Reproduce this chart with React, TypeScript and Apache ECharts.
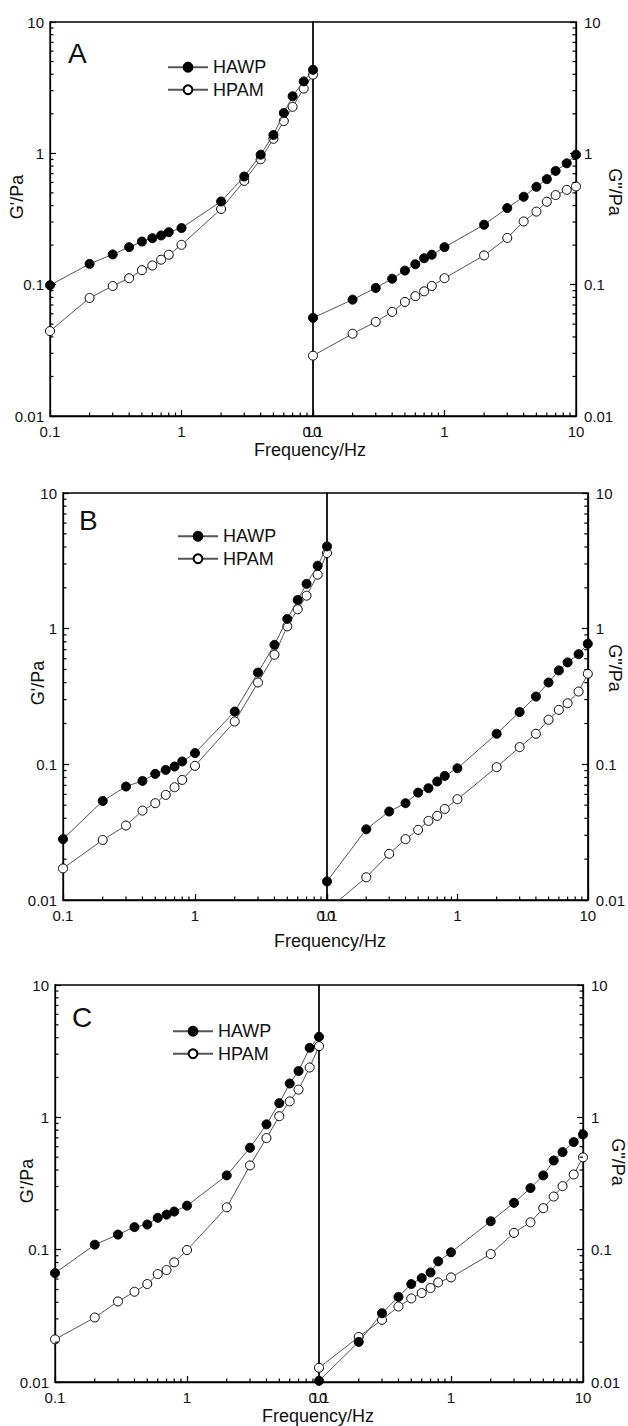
import React, { useEffect, useRef } from "react";
import * as echarts from "echarts";

// Frequency (Hz) of each measured point
const freq = [0.1, 0.2, 0.3, 0.4, 0.5, 0.6, 0.7, 0.8, 1, 2, 3, 4, 5, 6, 7, 8.5, 10];

// Panel A
const A_G1_HAWP = [0.099, 0.144, 0.17, 0.193, 0.213, 0.226, 0.237, 0.251, 0.27, 0.43, 0.666, 0.977, 1.38, 2.03, 2.72, 3.53, 4.33];
const A_G1_HPAM = [0.0443, 0.0792, 0.0977, 0.112, 0.129, 0.14, 0.155, 0.169, 0.201, 0.377, 0.617, 0.901, 1.29, 1.76, 2.26, 3.11, 3.97];
const A_G2_HAWP = [0.0559, 0.0769, 0.0944, 0.111, 0.128, 0.143, 0.159, 0.169, 0.193, 0.286, 0.383, 0.467, 0.556, 0.636, 0.735, 0.84, 0.977];
const A_G2_HPAM = [0.0288, 0.0423, 0.0521, 0.0621, 0.0739, 0.0817, 0.089, 0.0977, 0.112, 0.167, 0.227, 0.303, 0.36, 0.428, 0.481, 0.527, 0.559];

// Panel B
const B_G1_HAWP = [0.0281, 0.0537, 0.0686, 0.0755, 0.0851, 0.091, 0.0964, 0.105, 0.121, 0.245, 0.475, 0.76, 1.18, 1.63, 2.14, 2.91, 4.04];
const B_G1_HPAM = [0.0171, 0.0277, 0.0354, 0.0456, 0.0517, 0.0595, 0.0678, 0.0768, 0.0975, 0.207, 0.401, 0.642, 1.04, 1.39, 1.75, 2.5, 3.61];
const B_G2_HAWP = [0.0137, 0.0332, 0.0449, 0.0517, 0.0619, 0.0667, 0.0747, 0.0822, 0.0935, 0.168, 0.243, 0.316, 0.401, 0.492, 0.564, 0.649, 0.774];
const B_G2_HPAM = [0.0084, 0.0147, 0.0219, 0.0281, 0.0329, 0.0383, 0.0417, 0.0469, 0.0553, 0.0953, 0.134, 0.168, 0.213, 0.252, 0.282, 0.344, 0.465];

// Panel C
const C_G1_HAWP = [0.0665, 0.109, 0.13, 0.148, 0.155, 0.174, 0.184, 0.194, 0.215, 0.364, 0.589, 0.885, 1.28, 1.8, 2.24, 3.35, 4.06];
const C_G1_HPAM = [0.021, 0.0307, 0.0406, 0.0481, 0.055, 0.0654, 0.0701, 0.0802, 0.0994, 0.209, 0.433, 0.697, 1.02, 1.32, 1.62, 2.38, 3.45];
const C_G2_HAWP = [0.0102, 0.0201, 0.0331, 0.044, 0.055, 0.061, 0.0673, 0.0816, 0.0955, 0.164, 0.226, 0.292, 0.364, 0.472, 0.546, 0.65, 0.743];
const C_G2_HPAM = [0.0128, 0.0219, 0.0295, 0.0372, 0.0428, 0.047, 0.0513, 0.0566, 0.0617, 0.0927, 0.134, 0.161, 0.206, 0.252, 0.302, 0.37, 0.498];

// Axis ranges and minor tick values
const xRange = [0.1, 10];
const yRange = [0.01, 10];
const minorX = [0.2, 0.3, 0.4, 0.5, 0.6, 0.7, 0.8, 0.9, 2, 3, 4, 5, 6, 7, 8, 9];
const minorY = [0.02, 0.03, 0.04, 0.05, 0.06, 0.07, 0.08, 0.09, 0.2, 0.3, 0.4, 0.5, 0.6, 0.7, 0.8, 0.9, 2, 3, 4, 5, 6, 7, 8, 9];

const seriesNames = ["HAWP", "HPAM"];
const panelLetters = ["A", "B", "C"];
const xTitle = "Frequency/Hz";
const yTitleLeft = "G'/Pa";
const yTitleRight = 'G"/Pa';

const panelData = [
  { g1: [A_G1_HAWP, A_G1_HPAM], g2: [A_G2_HAWP, A_G2_HPAM] },
  { g1: [B_G1_HAWP, B_G1_HPAM], g2: [B_G2_HAWP, B_G2_HPAM] },
  { g1: [C_G1_HAWP, C_G1_HPAM], g2: [C_G2_HAWP, C_G2_HPAM] },
];

// Layout (pixels)
const layouts = [
  { left: 50, top: 22, w: 263, h: 394, legend: [167, 56], letter: [68, 53], yl: [17, 197], yr: [615, 192], xt: [310, 450] },
  { left: 63, top: 493, w: 264, h: 407, legend: [177, 525], letter: [79, 520], yl: [38, 683], yr: [615, 668], xt: [330, 941] },
  { left: 55, top: 985, w: 264, h: 397, legend: [172, 1020], letter: [72, 1017], yl: [27, 1181], yr: [618, 1162], xt: [318, 1416] },
];

const FONT = '"Liberation Sans", Arial, Helvetica, sans-serif';
const INK = "#111";
const LINE = "#555";
const AXIS_W = 1.3;
const TICK_COLOR = "#000";
const MINOR_LEN = 3.5;

function buildOption() {
  const grid: any[] = [];
  const xAxis: any[] = [];
  const yAxis: any[] = [];
  const series: any[] = [];
  const legend: any[] = [];
  const graphic: any[] = [];

  layouts.forEach((L, p) => {
    for (let side = 0; side < 2; side++) {
      const gi = grid.length;
      grid.push({
        left: L.left + side * L.w,
        top: L.top,
        width: L.w,
        height: L.h,
        show: true,
        borderColor: "#000",
        borderWidth: AXIS_W,
        backgroundColor: "transparent",
        containLabel: false,
      });
      xAxis.push({
        type: "log",
        logBase: 10,
        gridIndex: gi,
        min: xRange[0],
        max: xRange[1],
        axisLine: { show: true, lineStyle: { color: "#000", width: AXIS_W } },
        axisTick: { show: true, inside: true, length: 6, lineStyle: { color: "#000", width: 1.2 } },
        axisLabel: { fontSize: 15, color: INK, fontFamily: FONT, margin: 8 },
        splitLine: { show: false },
      });
      yAxis.push({
        type: "log",
        logBase: 10,
        gridIndex: gi,
        min: yRange[0],
        max: yRange[1],
        position: side === 0 ? "left" : "right",
        axisLine: { show: true, lineStyle: { color: "#000", width: AXIS_W } },
        axisTick: { show: true, inside: true, length: 6, lineStyle: { color: "#000", width: 1.2 } },
        axisLabel: { fontSize: 15, color: INK, fontFamily: FONT, margin: side === 0 ? 6 : 8 },
        splitLine: { show: false },
      });
      const vals = side === 0 ? panelData[p].g1 : panelData[p].g2;
      // HPAM first so HAWP is drawn on top
      [1, 0].forEach((k) => {
        const filled = k === 0;
        series.push({
          type: "line",
          name: seriesNames[k],
          xAxisIndex: gi,
          yAxisIndex: gi,
          data: freq.map((f, i) => [f, vals[k][i]]),
          symbol: "circle",
          symbolSize: 9,
          showSymbol: true,
          clip: true,
          z: filled ? 4 : 3,
          lineStyle: { color: LINE, width: 1 },
          itemStyle: { color: filled ? "#000" : "#fff", borderColor: "#000", borderWidth: 1 },
          emphasis: { disabled: true },
          silent: true,
        });
      });
      // minor ticks on the bottom axis
      series.push({
        type: "custom",
        coordinateSystem: "cartesian2d",
        xAxisIndex: gi,
        yAxisIndex: gi,
        silent: true,
        clip: false,
        z: 6,
        dimensions: ["x", "y"],
        encode: { x: 0, y: 1 },
        data: minorX.map((v) => [v, yRange[0]]),
        renderItem: (params: any, api: any) => {
          const c = api.coord([api.value(0), api.value(1)]);
          return {
            type: "line",
            shape: { x1: c[0], y1: c[1], x2: c[0], y2: c[1] - MINOR_LEN },
            style: { stroke: TICK_COLOR, lineWidth: 1.2 },
          };
        },
      });
      // minor ticks on the vertical axis
      series.push({
        type: "custom",
        coordinateSystem: "cartesian2d",
        xAxisIndex: gi,
        yAxisIndex: gi,
        silent: true,
        clip: false,
        z: 6,
        dimensions: ["x", "y"],
        encode: { x: 0, y: 1 },
        data: minorY.map((v) => [side === 0 ? xRange[0] : xRange[1], v]),
        renderItem: (params: any, api: any) => {
          const c = api.coord([api.value(0), api.value(1)]);
          const d = side === 0 ? MINOR_LEN : -MINOR_LEN;
          return {
            type: "line",
            shape: { x1: c[0], y1: c[1], x2: c[0] + d, y2: c[1] },
            style: { stroke: TICK_COLOR, lineWidth: 1.2 },
          };
        },
      });
    }

    legend.push({
      left: L.legend[0],
      top: L.legend[1],
      orient: "vertical",
      padding: 0,
      itemGap: 0,
      itemWidth: 40,
      itemHeight: 11,
      selectedMode: false,
      data: seriesNames,
      textStyle: { fontSize: 18, color: INK, fontFamily: FONT, lineHeight: 22.5 },
    });

    graphic.push({
      type: "text",
      x: L.letter[0],
      y: L.letter[1],
      style: { text: panelLetters[p], fontSize: 28, fontFamily: FONT, fill: INK, align: "left", verticalAlign: "middle" },
    });
    graphic.push({
      type: "text",
      x: L.yl[0],
      y: L.yl[1],
      rotation: Math.PI / 2,
      style: { text: yTitleLeft, fontSize: 18, fontFamily: FONT, fill: INK, align: "center", verticalAlign: "middle" },
    });
    graphic.push({
      type: "text",
      x: L.yr[0],
      y: L.yr[1],
      rotation: -Math.PI / 2,
      style: { text: yTitleRight, fontSize: 18, fontFamily: FONT, fill: INK, align: "center", verticalAlign: "middle" },
    });
    graphic.push({
      type: "text",
      x: L.xt[0],
      y: L.xt[1],
      style: { text: xTitle, fontSize: 18, fontFamily: FONT, fill: INK, align: "center", verticalAlign: "middle" },
    });
  });

  return {
    animation: false,
    backgroundColor: "#fff",
    grid,
    xAxis,
    yAxis,
    series,
    legend,
    graphic,
  };
}

export default function App() {
  const ref = useRef<HTMLDivElement>(null);
  useEffect(() => {
    if (!ref.current) return;
    const chart = echarts.init(ref.current, undefined, { renderer: "svg" });
    chart.setOption(buildOption() as any);
    return () => chart.dispose();
  }, []);
  return <div ref={ref} style={{ position: "absolute", left: 0, top: 0, width: 628, height: 1426 }} />;
}
